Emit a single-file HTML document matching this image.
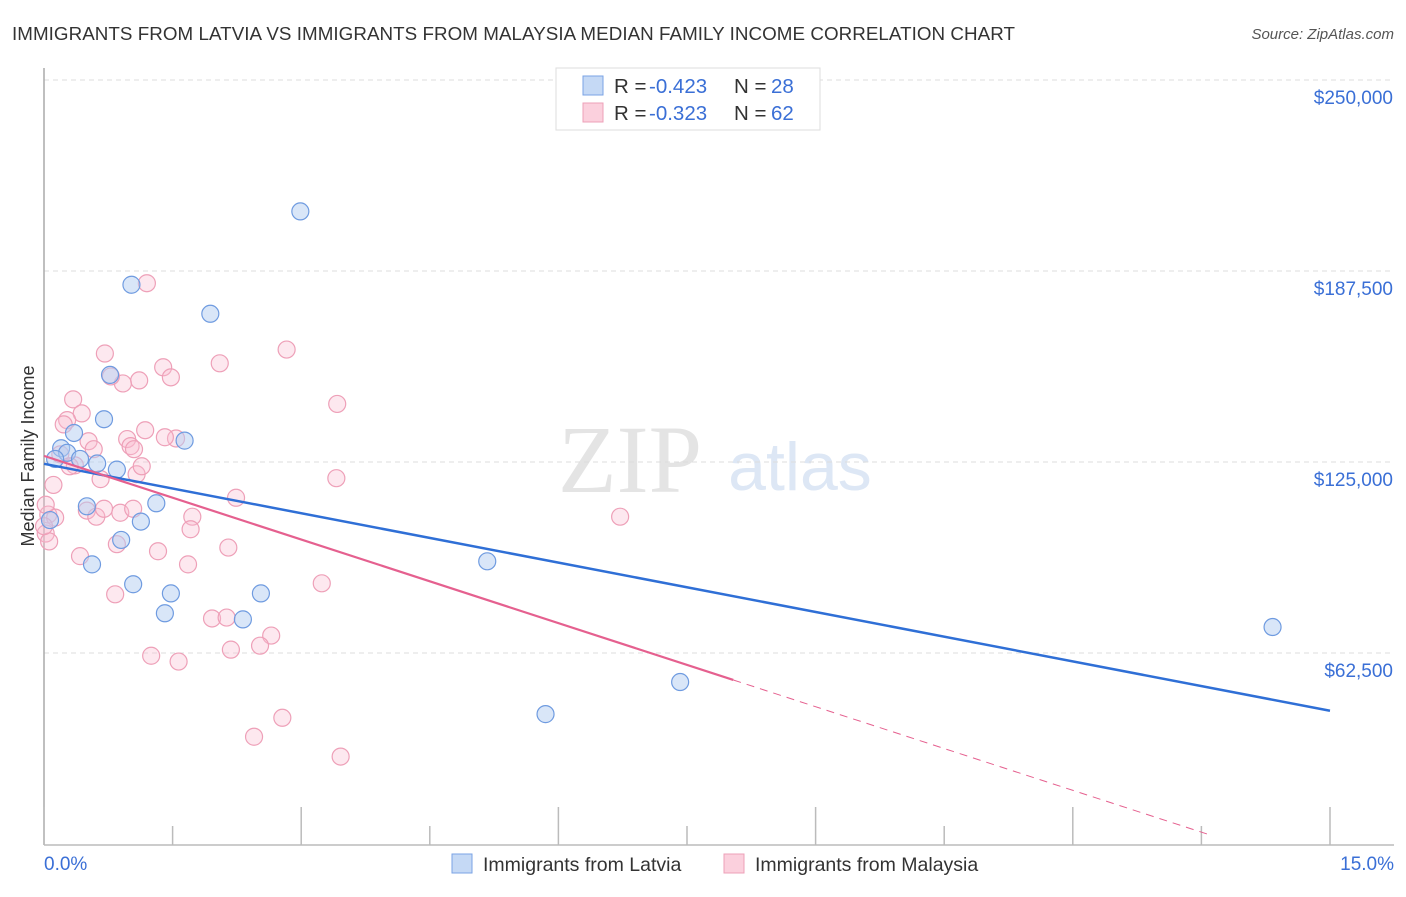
<!DOCTYPE html>
<html><head><meta charset="utf-8"><style>
body{margin:0;background:#fff;font-family:"Liberation Sans",sans-serif;}
</style></head><body>
<svg width="1406" height="892" xmlns="http://www.w3.org/2000/svg">
<text x="12" y="40" font-size="18.8" fill="#333" textLength="1003">IMMIGRANTS FROM LATVIA VS IMMIGRANTS FROM MALAYSIA MEDIAN FAMILY INCOME CORRELATION CHART</text>
<text x="1394" y="39" font-size="15" fill="#555" font-style="italic" text-anchor="end">Source: ZipAtlas.com</text>
<text x="630" y="492" font-size="96" fill="#e4e4e4" font-family="Liberation Serif,serif" text-anchor="middle">ZIP</text>
<text x="800" y="490" font-size="68" fill="#dde7f5" text-anchor="middle">atlas</text>
<g id="grid"></g>
<line x1="44" y1="68" x2="44" y2="845" stroke="#aaa" stroke-width="1.5"/>
<line x1="44" y1="845" x2="1394" y2="845" stroke="#bbb" stroke-width="1.5"/>
<g id="ticks"></g>
<text transform="translate(34,456) rotate(-90)" font-size="18" fill="#333" text-anchor="middle">Median Family Income</text>
<text x="44" y="870" font-size="19" fill="#3a6fd6">0.0%</text>
<text x="1394" y="870" font-size="19" fill="#3a6fd6" text-anchor="end">15.0%</text>
<g id="pts"></g>
<g id="lines"></g>
<g>
<rect x="556" y="68" width="264" height="62" fill="#fff" stroke="#ddd"/>
<rect x="583" y="76" width="20" height="19" fill="#c5d9f5" stroke="#7aa3e5"/>
<rect x="583" y="103" width="20" height="19" fill="#fbd0dd" stroke="#eea0b8"/>
<text x="614" y="93" font-size="20.5" fill="#333">R = <tspan x="649" fill="#3a6fd6">-0.423</tspan><tspan x="734">N = </tspan><tspan x="771" fill="#3a6fd6">28</tspan></text>
<text x="614" y="120" font-size="20.5" fill="#333">R = <tspan x="649" fill="#3a6fd6">-0.323</tspan><tspan x="734">N = </tspan><tspan x="771" fill="#3a6fd6">62</tspan></text>
</g>
<g>
<rect x="452" y="854" width="20" height="19" fill="#c5d9f5" stroke="#7aa3e5"/>
<text x="483" y="871" font-size="19.5" fill="#333">Immigrants from Latvia</text></g>
<g>
<rect x="724" y="854" width="20" height="19" fill="#fbd0dd" stroke="#eea0b8"/>
<text x="755" y="871" font-size="19.5" fill="#333">Immigrants from Malaysia</text></g>
</svg>
<script>
const yTicks=[62500,125000,187500,250000];
const yTickLabels=["$62,500","$125,000","$187,500","$250,000"];
const latviaX=[2.99,1.02,1.94,0.77,0.70,1.64,0.35,0.20,0.27,0.13,0.42,0.62,0.85,0.50,1.31,1.13,0.90,0.56,1.04,1.48,1.41,2.32,2.53,5.17,7.42,5.85,14.33,0.07];
const latviaY=[207000,183000,173500,153500,139000,132000,134500,129500,128000,126000,126000,124500,122500,110500,111500,105500,99500,91500,85000,82000,75500,73500,82000,92500,53000,42500,71000,106000];
const malaysiaX=[1.20,0.71,2.83,2.05,1.39,1.48,1.11,0.92,0.78,0.34,0.44,0.27,0.23,3.42,1.18,1.54,1.41,0.52,0.97,1.01,1.05,0.58,0.19,0.36,0.30,0.66,1.08,1.14,3.41,0.11,2.24,0.05,0.13,1.73,0.50,0.61,0.89,1.04,0.70,6.72,1.71,0.02,2.15,0.85,1.33,0.42,1.68,3.24,0.83,1.96,2.13,2.65,2.18,2.52,1.25,1.57,2.78,2.45,3.46,0.06,0.0,0.02];
const malaysiaY=[183500,160500,161800,157300,156000,152700,151700,150700,153000,145500,140900,138700,137300,144000,135400,132700,133100,131800,132500,130200,129200,129200,127500,123900,123600,119400,121000,123600,119700,117500,113300,107800,106800,107100,109100,107100,108400,109700,109700,107100,103000,101600,97000,98100,95800,94200,91500,85300,81700,73800,74100,68200,63600,64900,61600,59700,41300,35100,28600,99000,104000,111000];
const NS="http://www.w3.org/2000/svg";
const X0=44,X1=1330,Y0=844,PY=191/62500;
const sx=v=>X0+(v/15)*(X1-X0);
const sy=v=>Y0-v*PY;
function mk(t,a,p){const e=document.createElementNS(NS,t);for(const k in a)e.setAttribute(k,a[k]);p.appendChild(e);return e;}
const grid=document.getElementById('grid');
yTicks.forEach((v,i)=>{
 const l=mk('line',{x1:44,x2:1394,y1:sy(v),y2:sy(v),stroke:'#ddd','stroke-dasharray':'5,4'},grid);
 
 
 const t=mk('text',{x:1393,y:sy(v)+24,'font-size':19,fill:'#3a6fd6','text-anchor':'end'},grid);
 t.textContent=yTickLabels[i];
 
 
});
const ticks=document.getElementById('ticks');
for(let i=0;i<=10;i++){
 const x=sx(i*1.5);
 const h=(i%2==0)?38:19;
 const l=mk('line',{x1:x,x2:x,y1:845-h,y2:845,stroke:'#bbb','stroke-width':1.5},ticks);
 
 
}
const pts=document.getElementById('pts');
malaysiaX.forEach((v,i)=>{
 const c=mk('circle',{cx:sx(v),cy:sy(malaysiaY[i]),r:8.5,fill:'rgba(248,190,208,0.35)',stroke:'#eea0b8','stroke-width':1.2},pts);
 
 
});
latviaX.forEach((v,i)=>{
 const c=mk('circle',{cx:sx(v),cy:sy(latviaY[i]),r:8.5,fill:'rgba(180,205,242,0.5)',stroke:'#6f9be0','stroke-width':1.2},pts);
 
 
});
const lines=document.getElementById('lines');
const bl=mk('line',{x1:sx(0),y1:sy(124400),x2:sx(15),y2:sy(43600),stroke:'#2f6fd6','stroke-width':2.5},lines);


const pa=127000,pb=-9120;
const pl=mk('line',{x1:sx(0),y1:sy(pa),x2:sx(8.04),y2:sy(pa+pb*8.04),stroke:'#e5608f','stroke-width':2.2},lines);


const pd=mk('line',{x1:sx(8.04),y1:sy(pa+pb*8.04),x2:sx(13.6),y2:sy(pa+pb*13.6),stroke:'#e5608f','stroke-width':1,'stroke-dasharray':'8,6'},lines);


</script>
</body></html>
